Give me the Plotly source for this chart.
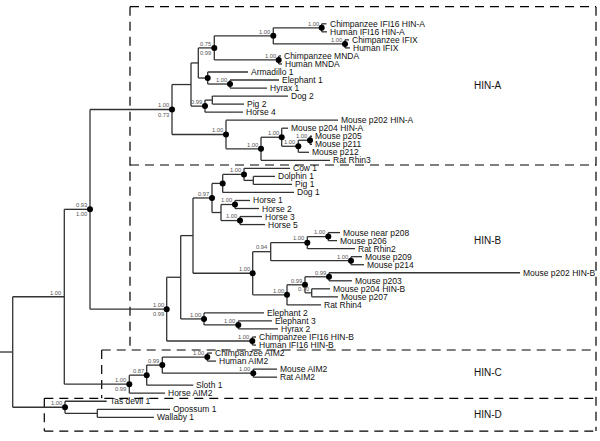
import plotly.graph_objects as go

# ---------------- data ----------------
leaf_names = [
    "Chimpanzee IFI16 HIN-A", "Human IFI16 HIN-A", "Chimpanzee IFIX", "Human IFIX",
    "Chimpanzee MNDA", "Human MNDA", "Armadillo 1", "Elephant 1", "Hyrax 1",
    "Dog 2", "Pig 2", "Horse 4", "Mouse p202 HIN-A", "Mouse p204 HIN-A",
    "Mouse p205", "Mouse p211", "Mouse p212", "Rat Rhin3", "Cow 1", "Dolphin 1",
    "Pig 1", "Dog 1", "Horse 1", "Horse 2", "Horse 3", "Horse 5",
    "Mouse near p208", "Mouse p206", "Rat Rhin2", "Mouse p209", "Mouse p214",
    "Mouse p202 HIN-B", "Mouse p203", "Mouse p204 HIN-B", "Mouse p207", "Rat Rhin4",
    "Elephant 2", "Elephant 3", "Hyrax 2", "Chimpanzee IFI16 HIN-B", "Human IFI16 HIN-B",
    "Chimpanzee AIM2", "Human AIM2", "Mouse AIM2", "Rat AIM2", "Sloth 1", "Horse AIM2",
    "Tas devil 1", "Opossum 1", "Wallaby 1",
]
# tip depth (x) of each leaf
leaf_x = [
    326.5, 327, 349, 350, 281, 282, 248, 279, 267, 288, 244, 243, 338, 288,
    312, 312, 309, 330, 290, 275, 292, 294, 250, 259, 262, 265,
    340, 337, 355, 362, 364, 520, 352, 330, 338, 321,
    264, 272, 278, 256, 256, 212, 216, 277, 277, 193.3, 165,
    106.7, 170, 154,
]

# internal nodes: name, children, depth (x), support labels (top / bottom)
node_names = [
    "R", "Nmain", "N093", "Aroot", "X2", "X1", "N075", "N100a", "IFI16A", "IFIX",
    "MNDA", "Arm", "EH1", "D099", "DP2", "MA", "MA2", "MA3", "MA4", "MA5",
    "Broot", "Y1", "Y2", "N097", "CD", "CDP", "DP", "HP", "H12", "H35",
    "MB", "N094", "MB3", "MB5", "MB4", "MB2", "MB6", "MB7", "MB8",
    "E2", "EH2", "IFI16B", "Croot", "C087", "C099", "AIMp", "AIMr", "Droot", "OW",
]
node_children = [
    ("Nmain", "Droot"), ("N093", "Croot"), ("Aroot", "Broot"), ("X2", "MA"),
    ("X1", "D099"), ("N075", "Arm"), ("N100a", "MNDA"), ("IFI16A", "IFIX"),
    ("Chimpanzee IFI16 HIN-A", "Human IFI16 HIN-A"), ("Chimpanzee IFIX", "Human IFIX"),
    ("Chimpanzee MNDA", "Human MNDA"), ("Armadillo 1", "EH1"), ("Elephant 1", "Hyrax 1"),
    ("DP2", "Horse 4"), ("Dog 2", "Pig 2"), ("Mouse p202 HIN-A", "MA2"),
    ("MA3", "Rat Rhin3"), ("Mouse p204 HIN-A", "MA4"), ("MA5", "Mouse p212"),
    ("Mouse p205", "Mouse p211"),
    ("Y1", "IFI16B"), ("Y2", "E2"), ("N097", "MB"), ("CD", "HP"), ("CDP", "Dog 1"),
    ("Cow 1", "DP"), ("Dolphin 1", "Pig 1"), ("H12", "H35"), ("Horse 1", "Horse 2"),
    ("Horse 3", "Horse 5"),
    ("N094", "MB2"), ("MB3", "MB4"), ("MB5", "Rat Rhin2"), ("Mouse near p208", "Mouse p206"),
    ("Mouse p209", "Mouse p214"), ("MB6", "Rat Rhin4"), ("MB7", "MB8"),
    ("Mouse p202 HIN-B", "Mouse p203"), ("Mouse p204 HIN-B", "Mouse p207"),
    ("Elephant 2", "EH2"), ("Elephant 3", "Hyrax 2"),
    ("Chimpanzee IFI16 HIN-B", "Human IFI16 HIN-B"),
    ("C087", "Horse AIM2"), ("C099", "Sloth 1"), ("AIMp", "AIMr"),
    ("Chimpanzee AIM2", "Human AIM2"), ("Mouse AIM2", "Rat AIM2"),
    ("Tas devil 1", "OW"), ("Opossum 1", "Wallaby 1"),
]
node_x = [
    12.7, 64.3, 90, 172, 191, 198.3, 214.3, 273.3, 321.7, 345,
    278.7, 207.7, 230, 205, 212.3, 226, 261, 281.7, 298.3, 310,
    166.7, 180.7, 193, 212, 222.7, 244, 253.3, 221, 235, 240,
    252.7, 270.7, 307.3, 328.3, 351, 287, 305, 329, 311.7,
    204, 238.3, 252.3, 129.3, 146.7, 162.3, 207.3, 253.3, 65, 97.3,
]
support_top = [
    "", "1.00", "0.93", "1.00", "", "", "0.75", "1.00", "1.00", "1.00",
    "1.00", "", "1.00", "0.99", "", "1.00", "1.00", "1.00", "1.00", "1.00",
    "1.00", "", "", "0.97", "", "1.00", "", "", "1.00", "1.00",
    "1.00", "0.94", "1.00", "1.00", "1.00", "1.00", "0.99", "0.99", "0.70",
    "1.00", "1.00", "1.00", "1.00", "0.87", "0.99", "1.00", "1.00", "1.00", "",
]
support_bottom = {"N093": "1.00", "Aroot": "0.73", "N075": "0.99", "Broot": "0.99", "Croot": "0.99"}
dotted_nodes = [
    "N093", "Aroot", "N075", "N100a", "IFI16A", "IFIX", "MNDA", "Arm", "EH1", "D099",
    "MA", "MA2", "MA3", "MA4", "MA5", "Broot", "N097", "CD", "CDP", "H12", "H35",
    "MB", "MB3", "MB5", "MB4", "MB2", "MB6", "MB7", "E2", "EH2", "IFI16B",
    "Croot", "C087", "C099", "AIMp", "AIMr", "Droot",
]
clade_names = ["HIN-A", "HIN-B", "HIN-C", "HIN-D"]
clade_label_y = [7.62, 27.0, 43.45, 48.6]

# ---------------- layout of the tree ----------------
pos_x = {n: x for n, x in zip(leaf_names, leaf_x)}
pos_y = {n: i for i, n in enumerate(leaf_names)}
children = dict(zip(node_names, node_children))
for n, x in zip(node_names, node_x):
    pos_x[n] = x


def get_y(n):
    if n in pos_y:
        return pos_y[n]
    a, b = children[n]
    pos_y[n] = (get_y(a) + get_y(b)) / 2
    return pos_y[n]


get_y("R")

lx, ly = [0, pos_x["R"], None], [pos_y["R"], pos_y["R"], None]
for n in node_names:
    a, b = children[n]
    lx += [pos_x[n], pos_x[n], None]
    ly += [pos_y[a], pos_y[b], None]
    for c in (a, b):
        lx += [pos_x[n], pos_x[c], None]
        ly += [pos_y[c], pos_y[c], None]

fig = go.Figure()
fig.add_trace(go.Scatter(x=lx, y=ly, mode="lines", line=dict(color="#333333", width=1.3),
                         hoverinfo="skip", showlegend=False))
fig.add_trace(go.Scatter(x=[pos_x[n] for n in dotted_nodes], y=[pos_y[n] for n in dotted_nodes],
                         mode="markers", marker=dict(color="black", size=6),
                         hoverinfo="skip", showlegend=False))

FONT = "Liberation Sans, Arial, sans-serif"
ann = []
for n in leaf_names:
    ann.append(dict(x=pos_x[n], y=pos_y[n], text=n, showarrow=False, xanchor="left",
                    yanchor="middle", xshift=1.0, font=dict(family=FONT, size=8.5, color="#111")))
for n, t in zip(node_names, support_top):
    if t:
        ann.append(dict(x=pos_x[n], y=pos_y[n], text=t, showarrow=False, xanchor="right",
                        yanchor="middle", xshift=-1.0, yshift=4.2,
                        font=dict(family=FONT, size=5.8, color="#555")))
    if n in support_bottom:
        ann.append(dict(x=pos_x[n], y=pos_y[n], text=support_bottom[n], showarrow=False,
                        xanchor="right", yanchor="middle", xshift=-1.0, yshift=-5,
                        font=dict(family=FONT, size=5.8, color="#555")))
for name, yv in zip(clade_names, clade_label_y):
    ann.append(dict(x=488, y=yv, text=name, showarrow=False, xanchor="center", yanchor="middle",
                    font=dict(family=FONT, size=10, color="#111")))

# dashed clade boxes
dash = dict(color="black", width=1.2, dash="9px,6px")
segs = [
    (130, -2.13, 596, -2.13), (130, 17.58, 596, 17.58), (101.7, 40.62, 596, 40.62),
    (44.3, 46.64, 596, 46.64), (44.3, 50.71, 596, 50.71),
    (130, -2.13, 130, 40.62), (101.7, 40.62, 101.7, 46.64), (44.3, 46.64, 44.3, 50.71),
    (596, -2.13, 596, 50.71),
]
shapes = [dict(type="line", x0=a, y0=b, x1=c, y1=d, xref="x", yref="y", line=dash, layer="below")
          for a, b, c, d in segs]

fig.update_layout(
    width=600, height=441, margin=dict(l=0, r=0, t=0, b=0),
    paper_bgcolor="white", plot_bgcolor="white",
    xaxis=dict(range=[0, 600], visible=False, fixedrange=True),
    yaxis=dict(range=[51.95, -2.964], visible=False, fixedrange=True),
    annotations=ann, shapes=shapes,
)
fig.write_html("out.html", config={"displayModeBar": False},
               post_script="document.body.style.margin='0';")
